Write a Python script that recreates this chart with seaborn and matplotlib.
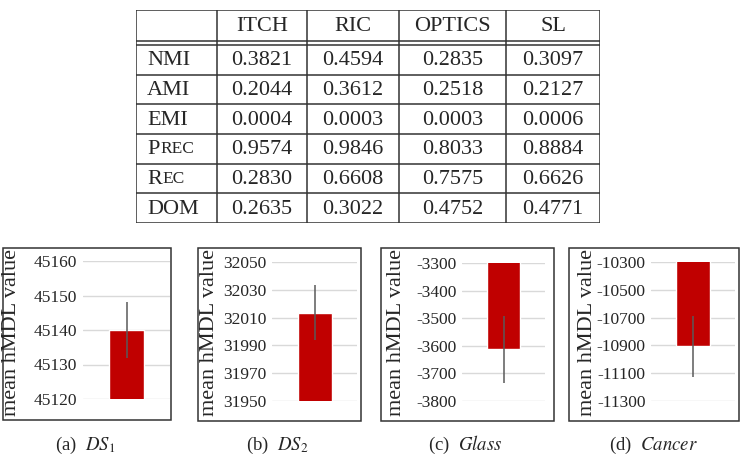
import numpy as np
import matplotlib
matplotlib.use("Agg")
import matplotlib.pyplot as plt
import seaborn as sns
from matplotlib.patches import Rectangle

# table data
methods = ["ITCH", "RIC", "OPTICS", "SL"]
measures = ["NMI", "AMI", "EMI", "PREC", "REC", "DOM"]
nmi = ["0.3821", "0.4594", "0.2835", "0.3097"]
ami = ["0.2044", "0.3612", "0.2518", "0.2127"]
emi = ["0.0004", "0.0003", "0.0003", "0.0006"]
prec = ["0.9574", "0.9846", "0.8033", "0.8884"]
rec = ["0.2830", "0.6608", "0.7575", "0.6626"]
dom = ["0.2635", "0.3022", "0.4752", "0.4771"]
table_rows = [nmi, ami, emi, prec, rec, dom]

# bar chart data
datasets = ["DS1", "DS2", "Glass", "Cancer"]
captions = [r"(a)  $DS_1$", r"(b)  $DS_2$", r"(c)  $\mathit{Glass}$", r"(d)  $\mathit{Cancer}$"]
mean_hmdl = [45140, 32013.5, -3613, -10905]
err_hmdl = [8.2, 19.7, 121, 220]
y_ranges = [(45120, 45160, 10), (31950, 32050, 20), (-3800, -3300, 100), (-11300, -10300, 200)]

sns.set_style("white")
plt.rcParams["font.family"] = ["Liberation Serif", "DejaVu Serif"]
plt.rcParams["mathtext.fontset"] = "stix"
plt.rcParams["axes.unicode_minus"] = False

W, H = 742, 458
fig = plt.figure(figsize=(W / 100, H / 100), dpi=100)


def fr(x0, y0, x1, y1):
    return [x0 / W, 1 - y1 / H, (x1 - x0) / W, (y1 - y0) / H]


# ---- table ----
ax_t = fig.add_axes(fr(136, 10, 600, 223))
ax_t.set_xlim(0, 464)
ax_t.set_ylim(213, 0)
ax_t.axis("off")
col_edges = [0, 81, 171, 263, 370, 464]
head_h = 31
gap = 4
row_h = (213 - head_h - gap) / len(measures)
lc = "#333333"
lw = 1.1
ax_t.hlines([0, head_h, head_h + gap, 213], 0, 464, color=lc, lw=lw)
for i in range(1, len(measures)):
    ax_t.hlines(head_h + gap + i * row_h, 0, 464, color=lc, lw=lw)
ax_t.vlines(col_edges, 0, 213, color=lc, lw=lw)

fs_t = 16
for j, m in enumerate(methods):
    cx = (col_edges[j + 1] + col_edges[j + 2]) / 2
    ax_t.text(cx, head_h / 2 + 1, m, ha="center", va="center", fontsize=fs_t)
for i, (name, vals) in enumerate(zip(measures, table_rows)):
    cy = head_h + gap + (i + 0.5) * row_h + 1
    if name in ("PREC", "REC"):
        # small caps: first letter full size, rest smaller
        t = ax_t.text(11, cy, name[0], ha="left", va="center", fontsize=fs_t)
        ax_t.annotate(name[1:], xy=(1, 0), xycoords=t, ha="left", va="bottom",
                      fontsize=fs_t * 0.78, xytext=(0.5, 1.4), textcoords="offset points")
    else:
        ax_t.text(11, cy, name, ha="left", va="center", fontsize=fs_t)
    for j, v in enumerate(vals):
        cx = (col_edges[j + 1] + col_edges[j + 2]) / 2
        ax_t.text(cx, cy, v, ha="center", va="center", fontsize=fs_t)

# ---- bar charts ----
plot_boxes = [(83, 261, 170, 399), (272, 262, 357, 401), (462, 263, 545, 401), (651, 262, 735, 401)]
frames = [(3, 248, 171, 420), (198, 248, 361, 421), (381, 248, 554, 421), (569, 248, 739, 421)]
label_x = [12, 209, 397, 587]
caption_x = [85, 277, 465, 653]

for k in range(4):
    ax = fig.add_axes(fr(*plot_boxes[k]))
    sns.barplot(x=[datasets[k]], y=[mean_hmdl[k]], color="#C00000", saturation=1,
                width=0.4, ax=ax)
    ax.errorbar(x=[0], y=[mean_hmdl[k]], yerr=[err_hmdl[k]], fmt="none",
                ecolor="#5a5a5a", elinewidth=1.1, capsize=0)
    lo, hi, step = y_ranges[k]
    ax.set_ylim(lo, hi)
    ax.set_yticks(np.arange(lo, hi + step / 2, step))
    ax.set_xlim(-0.5, 0.5)
    ax.set_xticks([])
    ax.set_xlabel("")
    ax.set_ylabel("")
    ax.yaxis.grid(True, color="#d9d9d9", lw=1)
    ax.set_axisbelow(True)
    for s in ax.spines.values():
        s.set_visible(False)
    ax.tick_params(axis="y", length=0, pad=4, labelsize=12.5)
    x0, y0, x1, y1 = frames[k]
    fig.add_artist(Rectangle((x0 / W, 1 - y1 / H), (x1 - x0) / W, (y1 - y0) / H,
                             transform=fig.transFigure, fill=False, edgecolor="#333333", lw=1.1))
    fig.text(label_x[k] / W, 1 - 333 / H, "mean hMDL value", rotation=90,
             ha="center", va="center", fontsize=16)
    fig.text(caption_x[k] / W, 1 - 445 / H, captions[k], ha="center",
             va="center", fontsize=13.5)

fig.savefig("out.png", dpi=100)
